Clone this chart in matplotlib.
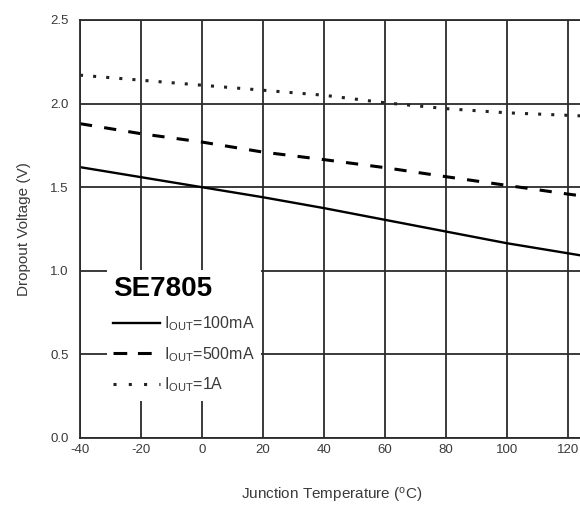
import matplotlib
matplotlib.use("Agg")
import matplotlib.pyplot as plt
from matplotlib.lines import Line2D

# --- Data ---
temp = [-40, -20, 0, 20, 40, 60, 80, 100, 120, 125]
v_100ma = [1.62, 1.56, 1.50, 1.44, 1.375, 1.305, 1.235, 1.165, 1.105, 1.09]
v_500ma = [1.88, 1.82, 1.77, 1.71, 1.665, 1.617, 1.563, 1.511, 1.459, 1.447]
v_1a = [2.17, 2.14, 2.11, 2.08, 2.05, 2.005, 1.97, 1.945, 1.93, 1.926]

x_ticks = [-40, -20, 0, 20, 40, 60, 80, 100, 120]
y_ticks = [0.0, 0.5, 1.0, 1.5, 2.0, 2.5]
labels = [r'I$_{\mathrm{OUT}}$=100mA', r'I$_{\mathrm{OUT}}$=500mA', r'I$_{\mathrm{OUT}}$=1A']

plt.rcParams['font.family'] = ['Liberation Sans', 'DejaVu Sans']
plt.rcParams['mathtext.fontset'] = 'custom'
plt.rcParams['mathtext.rm'] = 'Liberation Sans'
plt.rcParams['mathtext.it'] = 'Liberation Sans:italic'

grid_col = '#2b2b2b'
text_col = '#3a3a3a'

fig = plt.figure(figsize=(5.8, 5.09), dpi=100)
ax = fig.add_axes([80 / 580, 71 / 509, 503 / 580, 418 / 509])

# Curves
ax.plot(temp, v_100ma, color='black', lw=1.7, solid_capstyle='butt')
ax.plot(temp, v_500ma, color='black', lw=2.2, linestyle=(0, (4, 4)))
ax.plot(temp, v_1a, color='#222222', lw=2.2, linestyle=(0, (1, 3.3)))

ax.set_xlim(-40, 125)
ax.set_ylim(0, 2.5)
ax.set_xticks(x_ticks)
ax.set_yticks(y_ticks)
ax.set_xticklabels([str(t) for t in x_ticks])
ax.set_yticklabels(['%.1f' % v for v in y_ticks])
ax.tick_params(length=0, labelsize=9.5, colors=text_col)
ax.tick_params(axis='y', pad=8)
ax.tick_params(axis='x', pad=4)

ax.grid(True, color=grid_col, lw=1.3)
ax.set_axisbelow(True)
for side in ['left', 'bottom', 'top']:
    ax.spines[side].set_color(grid_col)
    ax.spines[side].set_linewidth(1.3)
ax.spines['right'].set_visible(False)

ax.set_xlabel(r'Junction Temperature ($^{\mathrm{o}}$C)', fontsize=11, color=text_col, labelpad=22)
ax.set_ylabel('Dropout Voltage (V)', fontsize=11, color=text_col, labelpad=14)

# Legend
handles = [
    Line2D([], [], color='black', lw=1.7),
    Line2D([], [], color='black', lw=2.2, linestyle=(0, (4.5, 3.5))),
    Line2D([], [], color='#222222', lw=2.2, linestyle=(0, (1, 4))),
]
leg = ax.legend(handles, labels, loc='upper left',
                bbox_to_anchor=(107 / 580, 1 - 270 / 509), bbox_transform=fig.transFigure,
                borderaxespad=0, frameon=True, fancybox=False, framealpha=1,
                facecolor='white', edgecolor='none', fontsize=11.5,
                handlelength=2.9, handletextpad=0.25, labelspacing=0.75,
                borderpad=0.4, title='SE7805', alignment='left')
leg.get_title().set_fontsize(20)
leg.get_title().set_fontweight('bold')
for t in leg.get_texts():
    t.set_color(text_col)

fig.savefig('out.png', dpi=100)
